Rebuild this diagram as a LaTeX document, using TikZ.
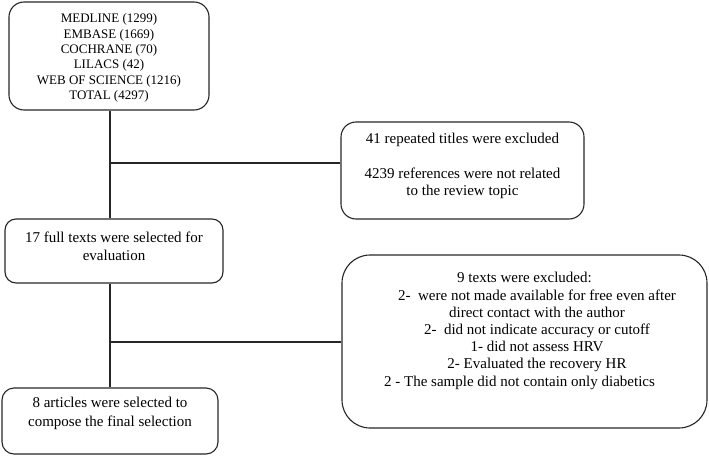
\documentclass[tikz,border=0pt]{standalone}
\usepackage{fontspec}
\usepackage{tikz}
\usepackage{xcolor}
\setmainfont{Liberation Serif}
\usetikzlibrary{calc}
\colorlet{framegray}{black!85}

\begin{document}
\begin{tikzpicture}[x=1pt, y=-1pt,
        box/.style={draw=framegray, line width=1.1pt, inner sep=0pt},
        txt/.style={align=center, inner sep=0pt, font=\fontsize{15}{17.5}\selectfont},
        link/.style={draw=framegray, line width=1.1pt}]
            \useasboundingbox (0, 0) rectangle (709, 455);
            % coordinates
            \coordinate (trunk1) at (110, 163);
            \coordinate (trunk2) at (110, 342);
            % databases
            \node[box, rounded corners=15pt, minimum width=200pt, minimum height=108pt] (sources) at (109, 56) {};
            \node[txt, font=\fontsize{13}{15.4}\selectfont] (sourcestext) at (109, 58) {MEDLINE (1299)\\EMBASE (1669)\\COCHRANE (70)\\LILACS (42)\\WEB OF SCIENCE (1216)\\TOTAL (4297)};
            % first exclusion
            \node[box, rounded corners=15pt, minimum width=243pt, minimum height=97pt] (excl1) at (462.5, 170.5) {};
            \node[txt] (excl1text) at (462.5, 166) {41 repeated titles were excluded\\[17.5pt]4239 references were not related\\to the review topic};
            % full texts
            \node[box, rounded corners=11pt, minimum width=218pt, minimum height=64pt] (full) at (114, 251) {};
            \node[txt, font=\fontsize{15}{18}\selectfont] (fulltext) at (114, 246) {17 full texts were selected for\\evaluation};
            % second exclusion (lines 2-6 sit a little to the right)
            \node[box, rounded corners=28pt, minimum width=365pt, minimum height=173pt] (excl2) at (524.5, 341.5) {};
            \node[txt, font=\fontsize{15}{17.2}\selectfont] (excl2text) at (524.5, 331) {%
                \makebox[340pt]{9 texts were excluded:}\\
                \makebox[340pt]{\hspace*{25pt}2-~ were not made available for free even after}\\
                \makebox[340pt]{\hspace*{25pt}direct contact with the author}\\
                \makebox[340pt]{\hspace*{25pt}2-~ did not indicate accuracy or cutoff}\\
                \makebox[340pt]{\hspace*{25pt}1- did not assess HRV}\\
                \makebox[340pt]{\hspace*{25pt}2- Evaluated the recovery HR}\\
                \makebox[340pt]{2 - The sample did not contain only diabetics\hspace*{10pt}}};
            % final selection
            \node[box, rounded corners=12pt, minimum width=216pt, minimum height=66pt] (final) at (110, 421) {};
            \node[txt, font=\fontsize{15}{19}\selectfont] (finaltext) at (110, 413) {8 articles were selected to\\compose the final selection};
            % line databases -> full texts
            \draw[link] (sources.south -| trunk1) -- (full.north -| trunk1);
            \draw[link] (trunk1) -- (trunk1 -| excl1.west);
            % line full texts -> final selection
            \draw[link] (full.south -| trunk2) -- (final.north -| trunk2);
            \draw[link] (trunk2) -- (trunk2 -| excl2.west);
        \end{tikzpicture}
\end{document}
